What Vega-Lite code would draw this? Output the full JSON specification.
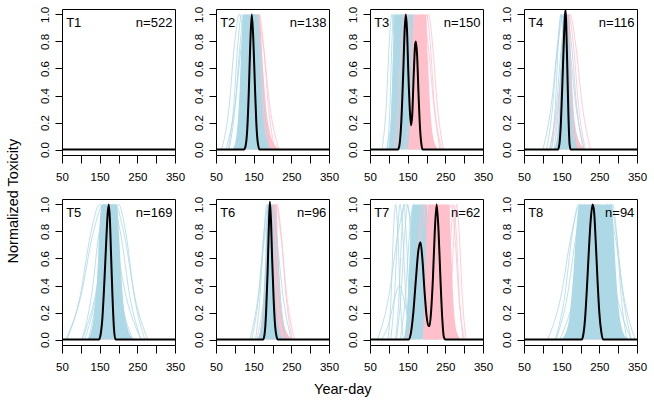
{
"$schema": "https://vega.github.io/schema/vega-lite/v6.json",
"padding": {"left": 5, "top": 5, "right": 0, "bottom": 0},
"config": {
  "font": "Liberation Sans",
  "view": {"stroke": "#000", "strokeWidth": 1},
  "axis": {"grid": false, "domain": false, "tickColor": "#000", "labelColor": "#000", "labelFont": "Liberation Sans", "labelFontSize": 11.5},
  "header": {"labels": false, "title": null, "labelFontSize": 0, "labelPadding": 0, "titlePadding": 0}
},
"title": {"text": "Normalized Toxicity", "orient": "left", "anchor": "middle", "fontSize": 14.5, "fontWeight": "normal", "font": "Liberation Sans", "color": "#000", "offset": 17},
"hconcat": [{
"title": {"text": "Year-day", "orient": "bottom", "anchor": "middle", "fontSize": 14.5, "fontWeight": "normal", "font": "Liberation Sans", "color": "#000", "offset": 10},
"data": {"values": [
{"p":"T1","k":"t","t1":"T1","t2":"n=522"},
{"p":"T1","k":"k","x":50,"y":0},{"p":"T1","k":"k","x":350,"y":0},

{"p":"T2","k":"t","t1":"T2","t2":"n=138"},
{"p":"T2","k":"a","g":"A","x":95,"y":0},{"p":"T2","k":"a","g":"A","x":105,"y":0.12},{"p":"T2","k":"a","g":"A","x":113,"y":0.45},{"p":"T2","k":"a","g":"A","x":118,"y":0.8},{"p":"T2","k":"a","g":"A","x":123,"y":1},{"p":"T2","k":"a","g":"A","x":160,"y":1},{"p":"T2","k":"a","g":"A","x":165,"y":0.8},{"p":"T2","k":"a","g":"A","x":171,"y":0.45},{"p":"T2","k":"a","g":"A","x":178,"y":0.15},{"p":"T2","k":"a","g":"A","x":190,"y":0.02},{"p":"T2","k":"a","g":"A","x":200,"y":0},
{"p":"T2","k":"a","g":"B","x":120,"y":0},{"p":"T2","k":"a","g":"B","x":135,"y":0.3},{"p":"T2","k":"a","g":"B","x":145,"y":0.9},{"p":"T2","k":"a","g":"B","x":150,"y":1},{"p":"T2","k":"a","g":"B","x":165,"y":1},{"p":"T2","k":"a","g":"B","x":175,"y":0.6},{"p":"T2","k":"a","g":"B","x":188,"y":0.2},{"p":"T2","k":"a","g":"B","x":210,"y":0.02},{"p":"T2","k":"a","g":"B","x":225,"y":0},
{"p":"T2","k":"l","g":"A","id":1,"x":65,"y":0},{"p":"T2","k":"l","g":"A","id":1,"x":85,"y":0.32},{"p":"T2","k":"l","g":"A","id":1,"x":99,"y":0.78},{"p":"T2","k":"l","g":"A","id":1,"x":112,"y":1},{"p":"T2","k":"l","g":"A","id":1,"x":125,"y":0.78},{"p":"T2","k":"l","g":"A","id":1,"x":139,"y":0.32},{"p":"T2","k":"l","g":"A","id":1,"x":157,"y":0},
{"p":"T2","k":"l","g":"A","id":2,"x":82,"y":0},{"p":"T2","k":"l","g":"A","id":2,"x":97,"y":0.32},{"p":"T2","k":"l","g":"A","id":2,"x":108,"y":0.78},{"p":"T2","k":"l","g":"A","id":2,"x":118,"y":1},{"p":"T2","k":"l","g":"A","id":2,"x":128,"y":0.78},{"p":"T2","k":"l","g":"A","id":2,"x":139,"y":0.32},{"p":"T2","k":"l","g":"A","id":2,"x":153,"y":0},
{"p":"T2","k":"l","g":"A","id":3,"x":85,"y":0},{"p":"T2","k":"l","g":"A","id":3,"x":101,"y":0.32},{"p":"T2","k":"l","g":"A","id":3,"x":114,"y":0.78},{"p":"T2","k":"l","g":"A","id":3,"x":125,"y":1},{"p":"T2","k":"l","g":"A","id":3,"x":136,"y":0.78},{"p":"T2","k":"l","g":"A","id":3,"x":149,"y":0.32},{"p":"T2","k":"l","g":"A","id":3,"x":165,"y":0},
{"p":"T2","k":"l","g":"A","id":4,"x":114,"y":0},{"p":"T2","k":"l","g":"A","id":4,"x":129,"y":0.32},{"p":"T2","k":"l","g":"A","id":4,"x":140,"y":0.78},{"p":"T2","k":"l","g":"A","id":4,"x":150,"y":1},{"p":"T2","k":"l","g":"A","id":4,"x":160,"y":0.78},{"p":"T2","k":"l","g":"A","id":4,"x":171,"y":0.32},{"p":"T2","k":"l","g":"A","id":4,"x":186,"y":0},
{"p":"T2","k":"l","g":"A","id":5,"x":129,"y":0},{"p":"T2","k":"l","g":"A","id":5,"x":142,"y":0.32},{"p":"T2","k":"l","g":"A","id":5,"x":152,"y":0.78},{"p":"T2","k":"l","g":"A","id":5,"x":160,"y":1},{"p":"T2","k":"l","g":"A","id":5,"x":168,"y":0.78},{"p":"T2","k":"l","g":"A","id":5,"x":178,"y":0.32},{"p":"T2","k":"l","g":"A","id":5,"x":191,"y":0},
{"p":"T2","k":"l","g":"A","id":6,"x":76,"y":0},{"p":"T2","k":"l","g":"A","id":6,"x":100,"y":0.32},{"p":"T2","k":"l","g":"A","id":6,"x":118,"y":0.78},{"p":"T2","k":"l","g":"A","id":6,"x":133,"y":1},{"p":"T2","k":"l","g":"A","id":6,"x":148,"y":0.78},{"p":"T2","k":"l","g":"A","id":6,"x":166,"y":0.32},{"p":"T2","k":"l","g":"A","id":6,"x":190,"y":0},
{"p":"T2","k":"l","g":"B","id":7,"x":100,"y":0},{"p":"T2","k":"l","g":"B","id":7,"x":120,"y":0.32},{"p":"T2","k":"l","g":"B","id":7,"x":136,"y":0.78},{"p":"T2","k":"l","g":"B","id":7,"x":150,"y":1},{"p":"T2","k":"l","g":"B","id":7,"x":164,"y":0.78},{"p":"T2","k":"l","g":"B","id":7,"x":180,"y":0.32},{"p":"T2","k":"l","g":"B","id":7,"x":200,"y":0},
{"p":"T2","k":"l","g":"B","id":8,"x":103,"y":0},{"p":"T2","k":"l","g":"B","id":8,"x":127,"y":0.32},{"p":"T2","k":"l","g":"B","id":8,"x":145,"y":0.78},{"p":"T2","k":"l","g":"B","id":8,"x":160,"y":1},{"p":"T2","k":"l","g":"B","id":8,"x":175,"y":0.78},{"p":"T2","k":"l","g":"B","id":8,"x":193,"y":0.32},{"p":"T2","k":"l","g":"B","id":8,"x":217,"y":0},
{"p":"T2","k":"l","g":"B","id":9,"x":123,"y":0},{"p":"T2","k":"l","g":"B","id":9,"x":141,"y":0.32},{"p":"T2","k":"l","g":"B","id":9,"x":154,"y":0.78},{"p":"T2","k":"l","g":"B","id":9,"x":165,"y":1},{"p":"T2","k":"l","g":"B","id":9,"x":176,"y":0.78},{"p":"T2","k":"l","g":"B","id":9,"x":189,"y":0.32},{"p":"T2","k":"l","g":"B","id":9,"x":207,"y":0},
{"p":"T2","k":"k","x":50,"y":0},{"p":"T2","k":"k","x":124,"y":0},{"p":"T2","k":"k","x":128,"y":0.02},{"p":"T2","k":"k","x":133,"y":0.15},{"p":"T2","k":"k","x":137,"y":0.42},{"p":"T2","k":"k","x":141,"y":0.78},{"p":"T2","k":"k","x":145,"y":1},{"p":"T2","k":"k","x":149,"y":0.82},{"p":"T2","k":"k","x":153,"y":0.5},{"p":"T2","k":"k","x":157,"y":0.2},{"p":"T2","k":"k","x":161,"y":0.05},{"p":"T2","k":"k","x":166,"y":0},{"p":"T2","k":"k","x":350,"y":0},

{"p":"T3","k":"t","t1":"T3","t2":"n=150"},
{"p":"T3","k":"a","g":"A","x":100,"y":0},{"p":"T3","k":"a","g":"A","x":106,"y":0.25},{"p":"T3","k":"a","g":"A","x":110,"y":0.6},{"p":"T3","k":"a","g":"A","x":115,"y":1},{"p":"T3","k":"a","g":"A","x":165,"y":1},{"p":"T3","k":"a","g":"A","x":170,"y":0.6},{"p":"T3","k":"a","g":"A","x":176,"y":0.2},{"p":"T3","k":"a","g":"A","x":185,"y":0},
{"p":"T3","k":"a","g":"B","x":150,"y":0},{"p":"T3","k":"a","g":"B","x":158,"y":0.3},{"p":"T3","k":"a","g":"B","x":163,"y":0.8},{"p":"T3","k":"a","g":"B","x":167,"y":1},{"p":"T3","k":"a","g":"B","x":198,"y":1},{"p":"T3","k":"a","g":"B","x":203,"y":0.7},{"p":"T3","k":"a","g":"B","x":210,"y":0.3},{"p":"T3","k":"a","g":"B","x":220,"y":0.06},{"p":"T3","k":"a","g":"B","x":232,"y":0},
{"p":"T3","k":"l","g":"A","id":1,"x":96,"y":0},{"p":"T3","k":"l","g":"A","id":1,"x":103,"y":0.32},{"p":"T3","k":"l","g":"A","id":1,"x":108,"y":0.78},{"p":"T3","k":"l","g":"A","id":1,"x":112,"y":1},{"p":"T3","k":"l","g":"A","id":1,"x":116,"y":0.78},{"p":"T3","k":"l","g":"A","id":1,"x":121,"y":0.32},{"p":"T3","k":"l","g":"A","id":1,"x":127,"y":0},
{"p":"T3","k":"l","g":"A","id":2,"x":82,"y":0},{"p":"T3","k":"l","g":"A","id":2,"x":93,"y":0.32},{"p":"T3","k":"l","g":"A","id":2,"x":101,"y":0.78},{"p":"T3","k":"l","g":"A","id":2,"x":108,"y":1},{"p":"T3","k":"l","g":"A","id":2,"x":115,"y":0.78},{"p":"T3","k":"l","g":"A","id":2,"x":123,"y":0.32},{"p":"T3","k":"l","g":"A","id":2,"x":134,"y":0},
{"p":"T3","k":"l","g":"A","id":3,"x":99,"y":0},{"p":"T3","k":"l","g":"A","id":3,"x":108,"y":0.32},{"p":"T3","k":"l","g":"A","id":3,"x":114,"y":0.78},{"p":"T3","k":"l","g":"A","id":3,"x":120,"y":1},{"p":"T3","k":"l","g":"A","id":3,"x":126,"y":0.78},{"p":"T3","k":"l","g":"A","id":3,"x":132,"y":0.32},{"p":"T3","k":"l","g":"A","id":3,"x":141,"y":0},
{"p":"T3","k":"l","g":"A","id":4,"x":93,"y":0},{"p":"T3","k":"l","g":"A","id":4,"x":113,"y":0.32},{"p":"T3","k":"l","g":"A","id":4,"x":127,"y":0.78},{"p":"T3","k":"l","g":"A","id":4,"x":140,"y":1},{"p":"T3","k":"l","g":"A","id":4,"x":153,"y":0.78},{"p":"T3","k":"l","g":"A","id":4,"x":167,"y":0.32},{"p":"T3","k":"l","g":"A","id":4,"x":187,"y":0},
{"p":"T3","k":"l","g":"A","id":5,"x":139,"y":0},{"p":"T3","k":"l","g":"A","id":5,"x":150,"y":0.32},{"p":"T3","k":"l","g":"A","id":5,"x":158,"y":0.78},{"p":"T3","k":"l","g":"A","id":5,"x":165,"y":1},{"p":"T3","k":"l","g":"A","id":5,"x":172,"y":0.78},{"p":"T3","k":"l","g":"A","id":5,"x":180,"y":0.32},{"p":"T3","k":"l","g":"A","id":5,"x":191,"y":0},
{"p":"T3","k":"l","g":"B","id":6,"x":114,"y":0},{"p":"T3","k":"l","g":"B","id":6,"x":125,"y":0.32},{"p":"T3","k":"l","g":"B","id":6,"x":133,"y":0.78},{"p":"T3","k":"l","g":"B","id":6,"x":140,"y":1},{"p":"T3","k":"l","g":"B","id":6,"x":147,"y":0.78},{"p":"T3","k":"l","g":"B","id":6,"x":155,"y":0.32},{"p":"T3","k":"l","g":"B","id":6,"x":166,"y":0},
{"p":"T3","k":"l","g":"B","id":7,"x":119,"y":0},{"p":"T3","k":"l","g":"B","id":7,"x":132,"y":0.32},{"p":"T3","k":"l","g":"B","id":7,"x":142,"y":0.78},{"p":"T3","k":"l","g":"B","id":7,"x":150,"y":1},{"p":"T3","k":"l","g":"B","id":7,"x":158,"y":0.78},{"p":"T3","k":"l","g":"B","id":7,"x":168,"y":0.32},{"p":"T3","k":"l","g":"B","id":7,"x":181,"y":0},
{"p":"T3","k":"l","g":"B","id":8,"x":164,"y":0},{"p":"T3","k":"l","g":"B","id":8,"x":179,"y":0.32},{"p":"T3","k":"l","g":"B","id":8,"x":190,"y":0.78},{"p":"T3","k":"l","g":"B","id":8,"x":200,"y":1},{"p":"T3","k":"l","g":"B","id":8,"x":210,"y":0.78},{"p":"T3","k":"l","g":"B","id":8,"x":221,"y":0.32},{"p":"T3","k":"l","g":"B","id":8,"x":236,"y":0},
{"p":"T3","k":"l","g":"B","id":9,"x":140,"y":0},{"p":"T3","k":"l","g":"B","id":9,"x":160,"y":0.32},{"p":"T3","k":"l","g":"B","id":9,"x":176,"y":0.78},{"p":"T3","k":"l","g":"B","id":9,"x":190,"y":1},{"p":"T3","k":"l","g":"B","id":9,"x":204,"y":0.78},{"p":"T3","k":"l","g":"B","id":9,"x":220,"y":0.32},{"p":"T3","k":"l","g":"B","id":9,"x":240,"y":0},
{"p":"T3","k":"l","g":"B","id":10,"x":163,"y":0},{"p":"T3","k":"l","g":"B","id":10,"x":181,"y":0.32},{"p":"T3","k":"l","g":"B","id":10,"x":194,"y":0.78},{"p":"T3","k":"l","g":"B","id":10,"x":205,"y":1},{"p":"T3","k":"l","g":"B","id":10,"x":216,"y":0.78},{"p":"T3","k":"l","g":"B","id":10,"x":229,"y":0.32},{"p":"T3","k":"l","g":"B","id":10,"x":245,"y":0},
{"p":"T3","k":"k","x":50,"y":0},{"p":"T3","k":"k","x":124,"y":0},{"p":"T3","k":"k","x":128,"y":0.03},{"p":"T3","k":"k","x":133,"y":0.2},{"p":"T3","k":"k","x":138,"y":0.55},{"p":"T3","k":"k","x":142,"y":0.88},{"p":"T3","k":"k","x":145,"y":1},{"p":"T3","k":"k","x":148,"y":0.9},{"p":"T3","k":"k","x":152,"y":0.55},{"p":"T3","k":"k","x":156,"y":0.28},{"p":"T3","k":"k","x":159,"y":0.18},{"p":"T3","k":"k","x":162,"y":0.25},{"p":"T3","k":"k","x":166,"y":0.55},{"p":"T3","k":"k","x":170,"y":0.78},{"p":"T3","k":"k","x":172,"y":0.8},{"p":"T3","k":"k","x":175,"y":0.7},{"p":"T3","k":"k","x":179,"y":0.4},{"p":"T3","k":"k","x":183,"y":0.15},{"p":"T3","k":"k","x":187,"y":0.03},{"p":"T3","k":"k","x":190,"y":0},{"p":"T3","k":"k","x":350,"y":0},

{"p":"T4","k":"t","t1":"T4","t2":"n=116"},
{"p":"T4","k":"a","g":"A","x":130,"y":0},{"p":"T4","k":"a","g":"A","x":140,"y":0.15},{"p":"T4","k":"a","g":"A","x":147,"y":0.5},{"p":"T4","k":"a","g":"A","x":152,"y":0.9},{"p":"T4","k":"a","g":"A","x":155,"y":1},{"p":"T4","k":"a","g":"A","x":165,"y":1},{"p":"T4","k":"a","g":"A","x":168,"y":0.8},{"p":"T4","k":"a","g":"A","x":173,"y":0.4},{"p":"T4","k":"a","g":"A","x":180,"y":0.1},{"p":"T4","k":"a","g":"A","x":195,"y":0},
{"p":"T4","k":"a","g":"B","x":140,"y":0},{"p":"T4","k":"a","g":"B","x":150,"y":0.4},{"p":"T4","k":"a","g":"B","x":156,"y":0.9},{"p":"T4","k":"a","g":"B","x":160,"y":1},{"p":"T4","k":"a","g":"B","x":170,"y":1},{"p":"T4","k":"a","g":"B","x":176,"y":0.6},{"p":"T4","k":"a","g":"B","x":185,"y":0.2},{"p":"T4","k":"a","g":"B","x":200,"y":0.04},{"p":"T4","k":"a","g":"B","x":215,"y":0},
{"p":"T4","k":"l","g":"A","id":1,"x":110,"y":0},{"p":"T4","k":"l","g":"A","id":1,"x":126,"y":0.32},{"p":"T4","k":"l","g":"A","id":1,"x":139,"y":0.78},{"p":"T4","k":"l","g":"A","id":1,"x":150,"y":1},{"p":"T4","k":"l","g":"A","id":1,"x":161,"y":0.78},{"p":"T4","k":"l","g":"A","id":1,"x":174,"y":0.32},{"p":"T4","k":"l","g":"A","id":1,"x":190,"y":0},
{"p":"T4","k":"l","g":"A","id":2,"x":100,"y":0},{"p":"T4","k":"l","g":"A","id":2,"x":122,"y":0.32},{"p":"T4","k":"l","g":"A","id":2,"x":140,"y":0.78},{"p":"T4","k":"l","g":"A","id":2,"x":155,"y":1},{"p":"T4","k":"l","g":"A","id":2,"x":170,"y":0.78},{"p":"T4","k":"l","g":"A","id":2,"x":188,"y":0.32},{"p":"T4","k":"l","g":"A","id":2,"x":210,"y":0},
{"p":"T4","k":"l","g":"A","id":3,"x":130,"y":0},{"p":"T4","k":"l","g":"A","id":3,"x":142,"y":0.32},{"p":"T4","k":"l","g":"A","id":3,"x":152,"y":0.78},{"p":"T4","k":"l","g":"A","id":3,"x":160,"y":1},{"p":"T4","k":"l","g":"A","id":3,"x":168,"y":0.78},{"p":"T4","k":"l","g":"A","id":3,"x":178,"y":0.32},{"p":"T4","k":"l","g":"A","id":3,"x":190,"y":0},
{"p":"T4","k":"l","g":"A","id":4,"x":123,"y":0},{"p":"T4","k":"l","g":"A","id":4,"x":133,"y":0.32},{"p":"T4","k":"l","g":"A","id":4,"x":141,"y":0.78},{"p":"T4","k":"l","g":"A","id":4,"x":148,"y":1},{"p":"T4","k":"l","g":"A","id":4,"x":155,"y":0.78},{"p":"T4","k":"l","g":"A","id":4,"x":163,"y":0.32},{"p":"T4","k":"l","g":"A","id":4,"x":173,"y":0},
{"p":"T4","k":"l","g":"A","id":5,"x":118,"y":0},{"p":"T4","k":"l","g":"A","id":5,"x":136,"y":0.32},{"p":"T4","k":"l","g":"A","id":5,"x":150,"y":0.78},{"p":"T4","k":"l","g":"A","id":5,"x":163,"y":1},{"p":"T4","k":"l","g":"A","id":5,"x":176,"y":0.78},{"p":"T4","k":"l","g":"A","id":5,"x":190,"y":0.32},{"p":"T4","k":"l","g":"A","id":5,"x":208,"y":0},
{"p":"T4","k":"l","g":"B","id":6,"x":123,"y":0},{"p":"T4","k":"l","g":"B","id":6,"x":141,"y":0.32},{"p":"T4","k":"l","g":"B","id":6,"x":155,"y":0.78},{"p":"T4","k":"l","g":"B","id":6,"x":168,"y":1},{"p":"T4","k":"l","g":"B","id":6,"x":181,"y":0.78},{"p":"T4","k":"l","g":"B","id":6,"x":195,"y":0.32},{"p":"T4","k":"l","g":"B","id":6,"x":213,"y":0},
{"p":"T4","k":"l","g":"B","id":7,"x":117,"y":0},{"p":"T4","k":"l","g":"B","id":7,"x":139,"y":0.32},{"p":"T4","k":"l","g":"B","id":7,"x":157,"y":0.78},{"p":"T4","k":"l","g":"B","id":7,"x":172,"y":1},{"p":"T4","k":"l","g":"B","id":7,"x":187,"y":0.78},{"p":"T4","k":"l","g":"B","id":7,"x":205,"y":0.32},{"p":"T4","k":"l","g":"B","id":7,"x":227,"y":0},
{"p":"T4","k":"k","x":50,"y":0},{"p":"T4","k":"k","x":140,"y":0},{"p":"T4","k":"k","x":144,"y":0.04},{"p":"T4","k":"k","x":148,"y":0.2},{"p":"T4","k":"k","x":152,"y":0.5},{"p":"T4","k":"k","x":156,"y":0.82},{"p":"T4","k":"k","x":159,"y":1},{"p":"T4","k":"k","x":160.5,"y":1.03},{"p":"T4","k":"k","x":162,"y":0.93},{"p":"T4","k":"k","x":165,"y":0.6},{"p":"T4","k":"k","x":168,"y":0.25},{"p":"T4","k":"k","x":171,"y":0.04},{"p":"T4","k":"k","x":174,"y":0},{"p":"T4","k":"k","x":350,"y":0},

{"p":"T5","k":"t","t1":"T5","t2":"n=169"},
{"p":"T5","k":"a","g":"A","x":118,"y":0},{"p":"T5","k":"a","g":"A","x":132,"y":0.12},{"p":"T5","k":"a","g":"A","x":143,"y":0.45},{"p":"T5","k":"a","g":"A","x":150,"y":0.85},{"p":"T5","k":"a","g":"A","x":155,"y":1},{"p":"T5","k":"a","g":"A","x":196,"y":1},{"p":"T5","k":"a","g":"A","x":201,"y":0.8},{"p":"T5","k":"a","g":"A","x":208,"y":0.45},{"p":"T5","k":"a","g":"A","x":220,"y":0.12},{"p":"T5","k":"a","g":"A","x":240,"y":0},
{"p":"T5","k":"a","g":"B","x":140,"y":0},{"p":"T5","k":"a","g":"B","x":155,"y":0.3},{"p":"T5","k":"a","g":"B","x":165,"y":0.8},{"p":"T5","k":"a","g":"B","x":172,"y":1},{"p":"T5","k":"a","g":"B","x":185,"y":1},{"p":"T5","k":"a","g":"B","x":195,"y":0.6},{"p":"T5","k":"a","g":"B","x":208,"y":0.2},{"p":"T5","k":"a","g":"B","x":225,"y":0},
{"p":"T5","k":"l","g":"A","id":1,"x":60,"y":0},{"p":"T5","k":"l","g":"A","id":1,"x":100,"y":0.32},{"p":"T5","k":"l","g":"A","id":1,"x":132,"y":0.78},{"p":"T5","k":"l","g":"A","id":1,"x":160,"y":1},{"p":"T5","k":"l","g":"A","id":1,"x":188,"y":0.78},{"p":"T5","k":"l","g":"A","id":1,"x":220,"y":0.32},{"p":"T5","k":"l","g":"A","id":1,"x":260,"y":0},
{"p":"T5","k":"l","g":"A","id":2,"x":63,"y":0},{"p":"T5","k":"l","g":"A","id":2,"x":98,"y":0.32},{"p":"T5","k":"l","g":"A","id":2,"x":126,"y":0.78},{"p":"T5","k":"l","g":"A","id":2,"x":150,"y":1},{"p":"T5","k":"l","g":"A","id":2,"x":175,"y":0.78},{"p":"T5","k":"l","g":"A","id":2,"x":203,"y":0.32},{"p":"T5","k":"l","g":"A","id":2,"x":238,"y":0},
{"p":"T5","k":"l","g":"A","id":3,"x":110,"y":0},{"p":"T5","k":"l","g":"A","id":3,"x":140,"y":0.32},{"p":"T5","k":"l","g":"A","id":3,"x":164,"y":0.78},{"p":"T5","k":"l","g":"A","id":3,"x":185,"y":1},{"p":"T5","k":"l","g":"A","id":3,"x":206,"y":0.78},{"p":"T5","k":"l","g":"A","id":3,"x":230,"y":0.32},{"p":"T5","k":"l","g":"A","id":3,"x":260,"y":0},
{"p":"T5","k":"l","g":"A","id":4,"x":130,"y":0},{"p":"T5","k":"l","g":"A","id":4,"x":158,"y":0.32},{"p":"T5","k":"l","g":"A","id":4,"x":180,"y":0.78},{"p":"T5","k":"l","g":"A","id":4,"x":200,"y":1},{"p":"T5","k":"l","g":"A","id":4,"x":220,"y":0.78},{"p":"T5","k":"l","g":"A","id":4,"x":242,"y":0.32},{"p":"T5","k":"l","g":"A","id":4,"x":270,"y":0},
{"p":"T5","k":"l","g":"A","id":5,"x":120,"y":0},{"p":"T5","k":"l","g":"A","id":5,"x":142,"y":0.32},{"p":"T5","k":"l","g":"A","id":5,"x":160,"y":0.78},{"p":"T5","k":"l","g":"A","id":5,"x":175,"y":1},{"p":"T5","k":"l","g":"A","id":5,"x":190,"y":0.78},{"p":"T5","k":"l","g":"A","id":5,"x":208,"y":0.32},{"p":"T5","k":"l","g":"A","id":5,"x":230,"y":0},
{"p":"T5","k":"l","g":"A","id":6,"x":103,"y":0},{"p":"T5","k":"l","g":"A","id":6,"x":138,"y":0.32},{"p":"T5","k":"l","g":"A","id":6,"x":166,"y":0.78},{"p":"T5","k":"l","g":"A","id":6,"x":190,"y":1},{"p":"T5","k":"l","g":"A","id":6,"x":215,"y":0.78},{"p":"T5","k":"l","g":"A","id":6,"x":243,"y":0.32},{"p":"T5","k":"l","g":"A","id":6,"x":278,"y":0},
{"p":"T5","k":"l","g":"A","id":7,"x":103,"y":0},{"p":"T5","k":"l","g":"A","id":7,"x":128,"y":0.32},{"p":"T5","k":"l","g":"A","id":7,"x":148,"y":0.78},{"p":"T5","k":"l","g":"A","id":7,"x":165,"y":1},{"p":"T5","k":"l","g":"A","id":7,"x":183,"y":0.78},{"p":"T5","k":"l","g":"A","id":7,"x":203,"y":0.32},{"p":"T5","k":"l","g":"A","id":7,"x":228,"y":0},
{"p":"T5","k":"l","g":"B","id":8,"x":128,"y":0},{"p":"T5","k":"l","g":"B","id":8,"x":148,"y":0.32},{"p":"T5","k":"l","g":"B","id":8,"x":164,"y":0.78},{"p":"T5","k":"l","g":"B","id":8,"x":178,"y":1},{"p":"T5","k":"l","g":"B","id":8,"x":192,"y":0.78},{"p":"T5","k":"l","g":"B","id":8,"x":208,"y":0.32},{"p":"T5","k":"l","g":"B","id":8,"x":228,"y":0},
{"p":"T5","k":"k","x":50,"y":0},{"p":"T5","k":"k","x":148,"y":0},{"p":"T5","k":"k","x":152,"y":0.03},{"p":"T5","k":"k","x":157,"y":0.15},{"p":"T5","k":"k","x":162,"y":0.4},{"p":"T5","k":"k","x":167,"y":0.7},{"p":"T5","k":"k","x":171,"y":0.92},{"p":"T5","k":"k","x":174,"y":1},{"p":"T5","k":"k","x":177,"y":0.9},{"p":"T5","k":"k","x":180,"y":0.65},{"p":"T5","k":"k","x":184,"y":0.32},{"p":"T5","k":"k","x":188,"y":0.08},{"p":"T5","k":"k","x":192,"y":0},{"p":"T5","k":"k","x":350,"y":0},

{"p":"T6","k":"t","t1":"T6","t2":"n=96"},
{"p":"T6","k":"a","g":"A","x":160,"y":0},{"p":"T6","k":"a","g":"A","x":172,"y":0.15},{"p":"T6","k":"a","g":"A","x":180,"y":0.55},{"p":"T6","k":"a","g":"A","x":185,"y":0.9},{"p":"T6","k":"a","g":"A","x":188,"y":1},{"p":"T6","k":"a","g":"A","x":198,"y":1},{"p":"T6","k":"a","g":"A","x":202,"y":0.75},{"p":"T6","k":"a","g":"A","x":208,"y":0.35},{"p":"T6","k":"a","g":"A","x":216,"y":0.1},{"p":"T6","k":"a","g":"A","x":230,"y":0},
{"p":"T6","k":"a","g":"B","x":175,"y":0},{"p":"T6","k":"a","g":"B","x":188,"y":0.4},{"p":"T6","k":"a","g":"B","x":195,"y":0.9},{"p":"T6","k":"a","g":"B","x":200,"y":1},{"p":"T6","k":"a","g":"B","x":210,"y":1},{"p":"T6","k":"a","g":"B","x":216,"y":0.6},{"p":"T6","k":"a","g":"B","x":225,"y":0.2},{"p":"T6","k":"a","g":"B","x":240,"y":0.04},{"p":"T6","k":"a","g":"B","x":255,"y":0},
{"p":"T6","k":"l","g":"A","id":1,"x":145,"y":0},{"p":"T6","k":"l","g":"A","id":1,"x":163,"y":0.32},{"p":"T6","k":"l","g":"A","id":1,"x":177,"y":0.78},{"p":"T6","k":"l","g":"A","id":1,"x":190,"y":1},{"p":"T6","k":"l","g":"A","id":1,"x":203,"y":0.78},{"p":"T6","k":"l","g":"A","id":1,"x":217,"y":0.32},{"p":"T6","k":"l","g":"A","id":1,"x":235,"y":0},
{"p":"T6","k":"l","g":"A","id":2,"x":140,"y":0},{"p":"T6","k":"l","g":"A","id":2,"x":162,"y":0.32},{"p":"T6","k":"l","g":"A","id":2,"x":180,"y":0.78},{"p":"T6","k":"l","g":"A","id":2,"x":195,"y":1},{"p":"T6","k":"l","g":"A","id":2,"x":210,"y":0.78},{"p":"T6","k":"l","g":"A","id":2,"x":228,"y":0.32},{"p":"T6","k":"l","g":"A","id":2,"x":250,"y":0},
{"p":"T6","k":"l","g":"A","id":3,"x":155,"y":0},{"p":"T6","k":"l","g":"A","id":3,"x":167,"y":0.32},{"p":"T6","k":"l","g":"A","id":3,"x":177,"y":0.78},{"p":"T6","k":"l","g":"A","id":3,"x":185,"y":1},{"p":"T6","k":"l","g":"A","id":3,"x":193,"y":0.78},{"p":"T6","k":"l","g":"A","id":3,"x":203,"y":0.32},{"p":"T6","k":"l","g":"A","id":3,"x":215,"y":0},
{"p":"T6","k":"l","g":"A","id":4,"x":165,"y":0},{"p":"T6","k":"l","g":"A","id":4,"x":179,"y":0.32},{"p":"T6","k":"l","g":"A","id":4,"x":190,"y":0.78},{"p":"T6","k":"l","g":"A","id":4,"x":200,"y":1},{"p":"T6","k":"l","g":"A","id":4,"x":210,"y":0.78},{"p":"T6","k":"l","g":"A","id":4,"x":221,"y":0.32},{"p":"T6","k":"l","g":"A","id":4,"x":235,"y":0},
{"p":"T6","k":"l","g":"B","id":5,"x":158,"y":0},{"p":"T6","k":"l","g":"B","id":5,"x":178,"y":0.32},{"p":"T6","k":"l","g":"B","id":5,"x":194,"y":0.78},{"p":"T6","k":"l","g":"B","id":5,"x":208,"y":1},{"p":"T6","k":"l","g":"B","id":5,"x":222,"y":0.78},{"p":"T6","k":"l","g":"B","id":5,"x":238,"y":0.32},{"p":"T6","k":"l","g":"B","id":5,"x":258,"y":0},
{"p":"T6","k":"l","g":"B","id":6,"x":172,"y":0},{"p":"T6","k":"l","g":"B","id":6,"x":188,"y":0.32},{"p":"T6","k":"l","g":"B","id":6,"x":201,"y":0.78},{"p":"T6","k":"l","g":"B","id":6,"x":212,"y":1},{"p":"T6","k":"l","g":"B","id":6,"x":223,"y":0.78},{"p":"T6","k":"l","g":"B","id":6,"x":236,"y":0.32},{"p":"T6","k":"l","g":"B","id":6,"x":252,"y":0},
{"p":"T6","k":"k","x":50,"y":0},{"p":"T6","k":"k","x":175,"y":0},{"p":"T6","k":"k","x":179,"y":0.04},{"p":"T6","k":"k","x":183,"y":0.2},{"p":"T6","k":"k","x":187,"y":0.5},{"p":"T6","k":"k","x":190,"y":0.8},{"p":"T6","k":"k","x":193,"y":1.02},{"p":"T6","k":"k","x":196,"y":0.88},{"p":"T6","k":"k","x":199,"y":0.6},{"p":"T6","k":"k","x":203,"y":0.3},{"p":"T6","k":"k","x":207,"y":0.1},{"p":"T6","k":"k","x":211,"y":0.02},{"p":"T6","k":"k","x":214,"y":0},{"p":"T6","k":"k","x":350,"y":0},

{"p":"T7","k":"t","t1":"T7","t2":"n=62"},
{"p":"T7","k":"a","g":"A","x":140,"y":0},{"p":"T7","k":"a","g":"A","x":148,"y":0.2},{"p":"T7","k":"a","g":"A","x":155,"y":0.6},{"p":"T7","k":"a","g":"A","x":160,"y":0.9},{"p":"T7","k":"a","g":"A","x":165,"y":1},{"p":"T7","k":"a","g":"A","x":200,"y":1},{"p":"T7","k":"a","g":"A","x":206,"y":0.7},{"p":"T7","k":"a","g":"A","x":214,"y":0.3},{"p":"T7","k":"a","g":"A","x":225,"y":0.06},{"p":"T7","k":"a","g":"A","x":235,"y":0},
{"p":"T7","k":"a","g":"B","x":190,"y":0},{"p":"T7","k":"a","g":"B","x":196,"y":0.35},{"p":"T7","k":"a","g":"B","x":200,"y":0.8},{"p":"T7","k":"a","g":"B","x":204,"y":1},{"p":"T7","k":"a","g":"B","x":260,"y":1},{"p":"T7","k":"a","g":"B","x":265,"y":0.7},{"p":"T7","k":"a","g":"B","x":271,"y":0.3},{"p":"T7","k":"a","g":"B","x":280,"y":0.06},{"p":"T7","k":"a","g":"B","x":292,"y":0},
{"p":"T7","k":"l","g":"A","id":1,"x":98,"y":0},{"p":"T7","k":"l","g":"A","id":1,"x":106,"y":0.32},{"p":"T7","k":"l","g":"A","id":1,"x":112,"y":0.78},{"p":"T7","k":"l","g":"A","id":1,"x":118,"y":1},{"p":"T7","k":"l","g":"A","id":1,"x":124,"y":0.78},{"p":"T7","k":"l","g":"A","id":1,"x":130,"y":0.32},{"p":"T7","k":"l","g":"A","id":1,"x":138,"y":0},
{"p":"T7","k":"l","g":"A","id":2,"x":105,"y":0},{"p":"T7","k":"l","g":"A","id":2,"x":115,"y":0.32},{"p":"T7","k":"l","g":"A","id":2,"x":123,"y":0.78},{"p":"T7","k":"l","g":"A","id":2,"x":130,"y":1},{"p":"T7","k":"l","g":"A","id":2,"x":137,"y":0.78},{"p":"T7","k":"l","g":"A","id":2,"x":145,"y":0.32},{"p":"T7","k":"l","g":"A","id":2,"x":155,"y":0},
{"p":"T7","k":"l","g":"A","id":3,"x":118,"y":0},{"p":"T7","k":"l","g":"A","id":3,"x":127,"y":0.32},{"p":"T7","k":"l","g":"A","id":3,"x":134,"y":0.78},{"p":"T7","k":"l","g":"A","id":3,"x":140,"y":1},{"p":"T7","k":"l","g":"A","id":3,"x":146,"y":0.78},{"p":"T7","k":"l","g":"A","id":3,"x":154,"y":0.32},{"p":"T7","k":"l","g":"A","id":3,"x":163,"y":0},
{"p":"T7","k":"l","g":"A","id":4,"x":120,"y":0},{"p":"T7","k":"l","g":"A","id":4,"x":132,"y":0.32},{"p":"T7","k":"l","g":"A","id":4,"x":142,"y":0.78},{"p":"T7","k":"l","g":"A","id":4,"x":150,"y":1},{"p":"T7","k":"l","g":"A","id":4,"x":158,"y":0.78},{"p":"T7","k":"l","g":"A","id":4,"x":168,"y":0.32},{"p":"T7","k":"l","g":"A","id":4,"x":180,"y":0},
{"p":"T7","k":"l","g":"A","id":5,"x":80,"y":0},{"p":"T7","k":"l","g":"A","id":5,"x":100,"y":0.12},{"p":"T7","k":"l","g":"A","id":5,"x":115,"y":0.3},{"p":"T7","k":"l","g":"A","id":5,"x":128,"y":0.4},{"p":"T7","k":"l","g":"A","id":5,"x":140,"y":0.3},{"p":"T7","k":"l","g":"A","id":5,"x":155,"y":0.1},{"p":"T7","k":"l","g":"A","id":5,"x":170,"y":0},
{"p":"T7","k":"l","g":"A","id":6,"x":70,"y":0},{"p":"T7","k":"l","g":"A","id":6,"x":100,"y":0.32},{"p":"T7","k":"l","g":"A","id":6,"x":124,"y":0.78},{"p":"T7","k":"l","g":"A","id":6,"x":145,"y":1},{"p":"T7","k":"l","g":"A","id":6,"x":166,"y":0.78},{"p":"T7","k":"l","g":"A","id":6,"x":190,"y":0.32},{"p":"T7","k":"l","g":"A","id":6,"x":220,"y":0},
{"p":"T7","k":"l","g":"A","id":7,"x":130,"y":0},{"p":"T7","k":"l","g":"A","id":7,"x":144,"y":0.32},{"p":"T7","k":"l","g":"A","id":7,"x":155,"y":0.78},{"p":"T7","k":"l","g":"A","id":7,"x":165,"y":1},{"p":"T7","k":"l","g":"A","id":7,"x":175,"y":0.78},{"p":"T7","k":"l","g":"A","id":7,"x":186,"y":0.32},{"p":"T7","k":"l","g":"A","id":7,"x":200,"y":0},
{"p":"T7","k":"l","g":"B","id":8,"x":153,"y":0},{"p":"T7","k":"l","g":"B","id":8,"x":168,"y":0.32},{"p":"T7","k":"l","g":"B","id":8,"x":180,"y":0.78},{"p":"T7","k":"l","g":"B","id":8,"x":190,"y":1},{"p":"T7","k":"l","g":"B","id":8,"x":201,"y":0.78},{"p":"T7","k":"l","g":"B","id":8,"x":213,"y":0.32},{"p":"T7","k":"l","g":"B","id":8,"x":228,"y":0},
{"p":"T7","k":"l","g":"B","id":9,"x":150,"y":0},{"p":"T7","k":"l","g":"B","id":9,"x":170,"y":0.32},{"p":"T7","k":"l","g":"B","id":9,"x":186,"y":0.78},{"p":"T7","k":"l","g":"B","id":9,"x":200,"y":1},{"p":"T7","k":"l","g":"B","id":9,"x":214,"y":0.78},{"p":"T7","k":"l","g":"B","id":9,"x":230,"y":0.32},{"p":"T7","k":"l","g":"B","id":9,"x":250,"y":0},
{"p":"T7","k":"l","g":"B","id":10,"x":230,"y":0},{"p":"T7","k":"l","g":"B","id":10,"x":244,"y":0.32},{"p":"T7","k":"l","g":"B","id":10,"x":255,"y":0.78},{"p":"T7","k":"l","g":"B","id":10,"x":265,"y":1},{"p":"T7","k":"l","g":"B","id":10,"x":275,"y":0.78},{"p":"T7","k":"l","g":"B","id":10,"x":286,"y":0.32},{"p":"T7","k":"l","g":"B","id":10,"x":300,"y":0},
{"p":"T7","k":"l","g":"B","id":11,"x":247,"y":0},{"p":"T7","k":"l","g":"B","id":11,"x":257,"y":0.32},{"p":"T7","k":"l","g":"B","id":11,"x":265,"y":0.78},{"p":"T7","k":"l","g":"B","id":11,"x":272,"y":1},{"p":"T7","k":"l","g":"B","id":11,"x":279,"y":0.78},{"p":"T7","k":"l","g":"B","id":11,"x":287,"y":0.32},{"p":"T7","k":"l","g":"B","id":11,"x":297,"y":0},
{"p":"T7","k":"l","g":"B","id":12,"x":255,"y":0},{"p":"T7","k":"l","g":"B","id":12,"x":265,"y":0.32},{"p":"T7","k":"l","g":"B","id":12,"x":273,"y":0.78},{"p":"T7","k":"l","g":"B","id":12,"x":280,"y":1},{"p":"T7","k":"l","g":"B","id":12,"x":287,"y":0.78},{"p":"T7","k":"l","g":"B","id":12,"x":295,"y":0.32},{"p":"T7","k":"l","g":"B","id":12,"x":305,"y":0},
{"p":"T7","k":"k","x":50,"y":0},{"p":"T7","k":"k","x":152,"y":0},{"p":"T7","k":"k","x":158,"y":0.04},{"p":"T7","k":"k","x":165,"y":0.2},{"p":"T7","k":"k","x":172,"y":0.45},{"p":"T7","k":"k","x":178,"y":0.65},{"p":"T7","k":"k","x":184,"y":0.72},{"p":"T7","k":"k","x":189,"y":0.6},{"p":"T7","k":"k","x":195,"y":0.35},{"p":"T7","k":"k","x":200,"y":0.18},{"p":"T7","k":"k","x":205,"y":0.1},{"p":"T7","k":"k","x":208,"y":0.1},{"p":"T7","k":"k","x":212,"y":0.2},{"p":"T7","k":"k","x":217,"y":0.45},{"p":"T7","k":"k","x":222,"y":0.8},{"p":"T7","k":"k","x":227,"y":1},{"p":"T7","k":"k","x":232,"y":0.8},{"p":"T7","k":"k","x":237,"y":0.45},{"p":"T7","k":"k","x":242,"y":0.15},{"p":"T7","k":"k","x":246,"y":0.02},{"p":"T7","k":"k","x":250,"y":0},{"p":"T7","k":"k","x":350,"y":0},

{"p":"T8","k":"t","t1":"T8","t2":"n=94"},
{"p":"T8","k":"a","g":"A","x":150,"y":0},{"p":"T8","k":"a","g":"A","x":168,"y":0.12},{"p":"T8","k":"a","g":"A","x":180,"y":0.45},{"p":"T8","k":"a","g":"A","x":190,"y":0.85},{"p":"T8","k":"a","g":"A","x":197,"y":1},{"p":"T8","k":"a","g":"A","x":283,"y":1},{"p":"T8","k":"a","g":"A","x":288,"y":0.8},{"p":"T8","k":"a","g":"A","x":295,"y":0.45},{"p":"T8","k":"a","g":"A","x":305,"y":0.15},{"p":"T8","k":"a","g":"A","x":320,"y":0.02},{"p":"T8","k":"a","g":"A","x":335,"y":0},
{"p":"T8","k":"a","g":"B","x":190,"y":0},{"p":"T8","k":"a","g":"B","x":205,"y":0.3},{"p":"T8","k":"a","g":"B","x":215,"y":0.8},{"p":"T8","k":"a","g":"B","x":222,"y":1},{"p":"T8","k":"a","g":"B","x":250,"y":1},{"p":"T8","k":"a","g":"B","x":258,"y":0.6},{"p":"T8","k":"a","g":"B","x":268,"y":0.2},{"p":"T8","k":"a","g":"B","x":285,"y":0},
{"p":"T8","k":"l","g":"A","id":1,"x":113,"y":0},{"p":"T8","k":"l","g":"A","id":1,"x":148,"y":0.32},{"p":"T8","k":"l","g":"A","id":1,"x":176,"y":0.78},{"p":"T8","k":"l","g":"A","id":1,"x":200,"y":1},{"p":"T8","k":"l","g":"A","id":1,"x":225,"y":0.78},{"p":"T8","k":"l","g":"A","id":1,"x":253,"y":0.32},{"p":"T8","k":"l","g":"A","id":1,"x":288,"y":0},
{"p":"T8","k":"l","g":"A","id":2,"x":135,"y":0},{"p":"T8","k":"l","g":"A","id":2,"x":165,"y":0.32},{"p":"T8","k":"l","g":"A","id":2,"x":189,"y":0.78},{"p":"T8","k":"l","g":"A","id":2,"x":210,"y":1},{"p":"T8","k":"l","g":"A","id":2,"x":231,"y":0.78},{"p":"T8","k":"l","g":"A","id":2,"x":255,"y":0.32},{"p":"T8","k":"l","g":"A","id":2,"x":285,"y":0},
{"p":"T8","k":"l","g":"A","id":3,"x":133,"y":0},{"p":"T8","k":"l","g":"A","id":3,"x":158,"y":0.32},{"p":"T8","k":"l","g":"A","id":3,"x":178,"y":0.78},{"p":"T8","k":"l","g":"A","id":3,"x":195,"y":1},{"p":"T8","k":"l","g":"A","id":3,"x":213,"y":0.78},{"p":"T8","k":"l","g":"A","id":3,"x":233,"y":0.32},{"p":"T8","k":"l","g":"A","id":3,"x":258,"y":0},
{"p":"T8","k":"l","g":"A","id":4,"x":225,"y":0},{"p":"T8","k":"l","g":"A","id":4,"x":247,"y":0.32},{"p":"T8","k":"l","g":"A","id":4,"x":265,"y":0.78},{"p":"T8","k":"l","g":"A","id":4,"x":280,"y":1},{"p":"T8","k":"l","g":"A","id":4,"x":295,"y":0.78},{"p":"T8","k":"l","g":"A","id":4,"x":313,"y":0.32},{"p":"T8","k":"l","g":"A","id":4,"x":335,"y":0},
{"p":"T8","k":"l","g":"A","id":5,"x":195,"y":0},{"p":"T8","k":"l","g":"A","id":5,"x":225,"y":0.32},{"p":"T8","k":"l","g":"A","id":5,"x":249,"y":0.78},{"p":"T8","k":"l","g":"A","id":5,"x":270,"y":1},{"p":"T8","k":"l","g":"A","id":5,"x":291,"y":0.78},{"p":"T8","k":"l","g":"A","id":5,"x":315,"y":0.32},{"p":"T8","k":"l","g":"A","id":5,"x":345,"y":0},
{"p":"T8","k":"l","g":"A","id":6,"x":145,"y":0},{"p":"T8","k":"l","g":"A","id":6,"x":183,"y":0.32},{"p":"T8","k":"l","g":"A","id":6,"x":213,"y":0.78},{"p":"T8","k":"l","g":"A","id":6,"x":240,"y":1},{"p":"T8","k":"l","g":"A","id":6,"x":267,"y":0.78},{"p":"T8","k":"l","g":"A","id":6,"x":297,"y":0.32},{"p":"T8","k":"l","g":"A","id":6,"x":335,"y":0},
{"p":"T8","k":"l","g":"A","id":7,"x":248,"y":0},{"p":"T8","k":"l","g":"A","id":7,"x":263,"y":0.32},{"p":"T8","k":"l","g":"A","id":7,"x":275,"y":0.78},{"p":"T8","k":"l","g":"A","id":7,"x":285,"y":1},{"p":"T8","k":"l","g":"A","id":7,"x":296,"y":0.78},{"p":"T8","k":"l","g":"A","id":7,"x":308,"y":0.32},{"p":"T8","k":"l","g":"A","id":7,"x":323,"y":0},
{"p":"T8","k":"l","g":"B","id":8,"x":185,"y":0},{"p":"T8","k":"l","g":"B","id":8,"x":205,"y":0.32},{"p":"T8","k":"l","g":"B","id":8,"x":221,"y":0.78},{"p":"T8","k":"l","g":"B","id":8,"x":235,"y":1},{"p":"T8","k":"l","g":"B","id":8,"x":249,"y":0.78},{"p":"T8","k":"l","g":"B","id":8,"x":265,"y":0.32},{"p":"T8","k":"l","g":"B","id":8,"x":285,"y":0},
{"p":"T8","k":"k","x":50,"y":0},{"p":"T8","k":"k","x":203,"y":0},{"p":"T8","k":"k","x":207,"y":0.03},{"p":"T8","k":"k","x":212,"y":0.15},{"p":"T8","k":"k","x":217,"y":0.38},{"p":"T8","k":"k","x":222,"y":0.65},{"p":"T8","k":"k","x":227,"y":0.88},{"p":"T8","k":"k","x":232,"y":1},{"p":"T8","k":"k","x":236,"y":0.95},{"p":"T8","k":"k","x":240,"y":0.75},{"p":"T8","k":"k","x":245,"y":0.45},{"p":"T8","k":"k","x":250,"y":0.2},{"p":"T8","k":"k","x":255,"y":0.06},{"p":"T8","k":"k","x":260,"y":0},{"p":"T8","k":"k","x":350,"y":0}
]},
"facet": {"field": "p", "type": "nominal", "title": null, "header": {"labels": false, "title": null, "labelFontSize": 0, "labelPadding": 0, "labelExpr": "''"}},
"columns": 4,
"spacing": {"row": 12, "column": 6},
"resolve": {"axis": {"x": "independent", "y": "independent"}},
"spec": {
  "width": 113,
  "height": 146,
  "layer": [
    {"transform": [{"filter": "datum.k == 'a' && ((datum.g == 'B') != (datum.p == 'T3' || datum.p == 'T7'))"}],
     "mark": {"type": "area", "interpolate": "monotone"},
     "encoding": {
       "x": {"field": "x", "type": "quantitative", "scale": {"domain": [50, 350], "nice": false, "zero": false}, "axis": {"title": null, "values": [50, 100, 150, 200, 250, 300, 350], "labelExpr": "datum.value % 100 == 50 ? datum.label : ''", "labelFlush": false, "labelOverlap": false, "tickSize": 8, "labelPadding": 8}},
       "y": {"field": "y", "type": "quantitative", "stack": null, "scale": {"domain": [-0.04, 1.04], "nice": false, "zero": false}, "axis": {"title": null, "values": [0, 0.2, 0.4, 0.6, 0.8, 1], "format": ".1f", "labelAngle": 270, "labelAlign": "center", "labelBaseline": "bottom", "tickSize": 7, "labelPadding": 5, "labelOverlap": false}},
       "color": {"field": "g", "type": "nominal", "scale": {"domain": ["A", "B"], "range": ["#ADD8E6", "#FFC0CB"]}, "legend": null}}},
    {"transform": [{"filter": "datum.k == 'l' && ((datum.g == 'B') != (datum.p == 'T3' || datum.p == 'T7'))"}],
     "mark": {"type": "line", "interpolate": "monotone", "strokeWidth": 0.8},
     "encoding": {
       "x": {"field": "x", "type": "quantitative", "scale": {"domain": [50, 350], "nice": false, "zero": false}, "axis": {"title": null, "values": [50, 100, 150, 200, 250, 300, 350], "labelExpr": "datum.value % 100 == 50 ? datum.label : ''", "labelFlush": false, "labelOverlap": false, "tickSize": 8, "labelPadding": 8}},
       "y": {"field": "y", "type": "quantitative", "scale": {"domain": [-0.04, 1.04], "nice": false, "zero": false}, "axis": {"title": null, "values": [0, 0.2, 0.4, 0.6, 0.8, 1], "format": ".1f", "labelAngle": 270, "labelAlign": "center", "labelBaseline": "bottom", "tickSize": 7, "labelPadding": 5, "labelOverlap": false}},
       "color": {"field": "g", "type": "nominal", "legend": null}, "detail": {"field": "id"}}},
    {"transform": [{"filter": "datum.k == 'a' && ((datum.g == 'B') == (datum.p == 'T3' || datum.p == 'T7'))"}],
     "mark": {"type": "area", "interpolate": "monotone"},
     "encoding": {
       "x": {"field": "x", "type": "quantitative", "scale": {"domain": [50, 350], "nice": false, "zero": false}, "axis": {"title": null, "values": [50, 100, 150, 200, 250, 300, 350], "labelExpr": "datum.value % 100 == 50 ? datum.label : ''", "labelFlush": false, "labelOverlap": false, "tickSize": 8, "labelPadding": 8}},
       "y": {"field": "y", "type": "quantitative", "stack": null, "scale": {"domain": [-0.04, 1.04], "nice": false, "zero": false}, "axis": {"title": null, "values": [0, 0.2, 0.4, 0.6, 0.8, 1], "format": ".1f", "labelAngle": 270, "labelAlign": "center", "labelBaseline": "bottom", "tickSize": 7, "labelPadding": 5, "labelOverlap": false}},
       "color": {"field": "g", "type": "nominal", "legend": null}}},
    {"transform": [{"filter": "datum.k == 'l' && ((datum.g == 'B') == (datum.p == 'T3' || datum.p == 'T7'))"}],
     "mark": {"type": "line", "interpolate": "monotone", "strokeWidth": 0.8},
     "encoding": {
       "x": {"field": "x", "type": "quantitative", "scale": {"domain": [50, 350], "nice": false, "zero": false}, "axis": {"title": null, "values": [50, 100, 150, 200, 250, 300, 350], "labelExpr": "datum.value % 100 == 50 ? datum.label : ''", "labelFlush": false, "labelOverlap": false, "tickSize": 8, "labelPadding": 8}},
       "y": {"field": "y", "type": "quantitative", "scale": {"domain": [-0.04, 1.04], "nice": false, "zero": false}, "axis": {"title": null, "values": [0, 0.2, 0.4, 0.6, 0.8, 1], "format": ".1f", "labelAngle": 270, "labelAlign": "center", "labelBaseline": "bottom", "tickSize": 7, "labelPadding": 5, "labelOverlap": false}},
       "color": {"field": "g", "type": "nominal", "legend": null}, "detail": {"field": "id"}}},
    {"transform": [{"filter": "datum.k == 'k'"}],
     "mark": {"type": "line", "interpolate": "monotone", "strokeWidth": 2, "color": "#000"},
     "encoding": {
       "x": {"field": "x", "type": "quantitative", "scale": {"domain": [50, 350], "nice": false, "zero": false}, "axis": {"title": null, "values": [50, 100, 150, 200, 250, 300, 350], "labelExpr": "datum.value % 100 == 50 ? datum.label : ''", "labelFlush": false, "labelOverlap": false, "tickSize": 8, "labelPadding": 8}},
       "y": {"field": "y", "type": "quantitative", "scale": {"domain": [-0.04, 1.04], "nice": false, "zero": false}, "axis": {"title": null, "values": [0, 0.2, 0.4, 0.6, 0.8, 1], "format": ".1f", "labelAngle": 270, "labelAlign": "center", "labelBaseline": "bottom", "tickSize": 7, "labelPadding": 5, "labelOverlap": false}}}},
    {"transform": [{"filter": "datum.k == 't'"}],
     "mark": {"type": "text", "align": "left", "baseline": "middle", "fontSize": 13, "font": "Liberation Sans", "color": "#000"},
     "encoding": {
       "x": {"datum": 61, "type": "quantitative", "scale": {"domain": [50, 350], "nice": false, "zero": false}, "axis": {"title": null, "values": [50, 100, 150, 200, 250, 300, 350], "labelExpr": "datum.value % 100 == 50 ? datum.label : ''", "labelFlush": false, "labelOverlap": false, "tickSize": 8, "labelPadding": 8}},
       "y": {"datum": 0.94, "type": "quantitative", "scale": {"domain": [-0.04, 1.04], "nice": false, "zero": false}, "axis": {"title": null, "values": [0, 0.2, 0.4, 0.6, 0.8, 1], "format": ".1f", "labelAngle": 270, "labelAlign": "center", "labelBaseline": "bottom", "tickSize": 7, "labelPadding": 5, "labelOverlap": false}},
       "text": {"field": "t1", "type": "nominal"}}},
    {"transform": [{"filter": "datum.k == 't'"}],
     "mark": {"type": "text", "align": "right", "baseline": "middle", "fontSize": 13, "font": "Liberation Sans", "color": "#000"},
     "encoding": {
       "x": {"datum": 343, "type": "quantitative", "scale": {"domain": [50, 350], "nice": false, "zero": false}, "axis": {"title": null, "values": [50, 100, 150, 200, 250, 300, 350], "labelExpr": "datum.value % 100 == 50 ? datum.label : ''", "labelFlush": false, "labelOverlap": false, "tickSize": 8, "labelPadding": 8}},
       "y": {"datum": 0.94, "type": "quantitative", "scale": {"domain": [-0.04, 1.04], "nice": false, "zero": false}, "axis": {"title": null, "values": [0, 0.2, 0.4, 0.6, 0.8, 1], "format": ".1f", "labelAngle": 270, "labelAlign": "center", "labelBaseline": "bottom", "tickSize": 7, "labelPadding": 5, "labelOverlap": false}},
       "text": {"field": "t2", "type": "nominal"}}}
  ]
}
}]
}
